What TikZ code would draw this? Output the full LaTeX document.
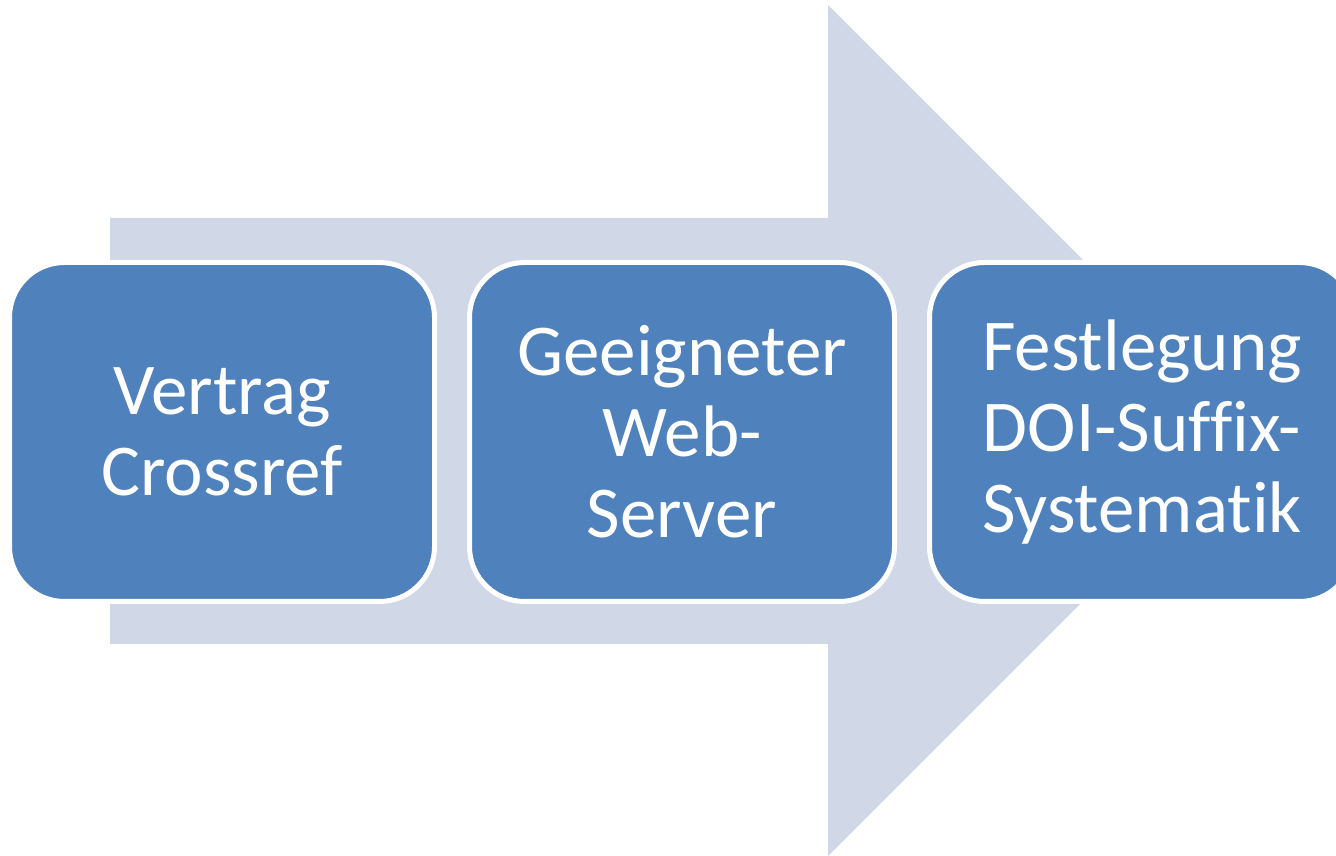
\documentclass[tikz,border=0pt]{standalone}
\usepackage{fontspec}
\setmainfont{Carlito}[Ligatures=NoCommon]
\usetikzlibrary{positioning}
\definecolor{stepblue}{HTML}{4F81BD}
\definecolor{arrowgrey}{HTML}{D0D8E8}

\begin{document}
\begin{tikzpicture}[x=1pt,y=1pt,node distance=30pt,
  stage/.style={draw=white, line width=5pt, fill=stepblue, rounded corners=55pt,
    minimum width=425pt, minimum height=339pt, text=white, align=center,
    font=\fontsize{73}{81}\selectfont}]
\useasboundingbox (0,0) rectangle (1336,856);
\clip (0,0) rectangle (1336,856);

% define the big arrow behind the stages
\fill[arrowgrey] (110,212) -- (110,638) -- (828,638) -- (828,851)
  -- (1253.5,425.5) -- (828,0) -- (828,212) -- cycle;

% define the stages
\node[stage] (vertrag) at (222,424) {Vertrag\\Crossref};
\node[stage] (server) [right=of vertrag] {Geeigneter\\Web-\\Server};
\node[stage] (suffix) [right=of server] {Festlegung\\DOI-Suffix-\\Systematik};

\end{tikzpicture}
\end{document}
